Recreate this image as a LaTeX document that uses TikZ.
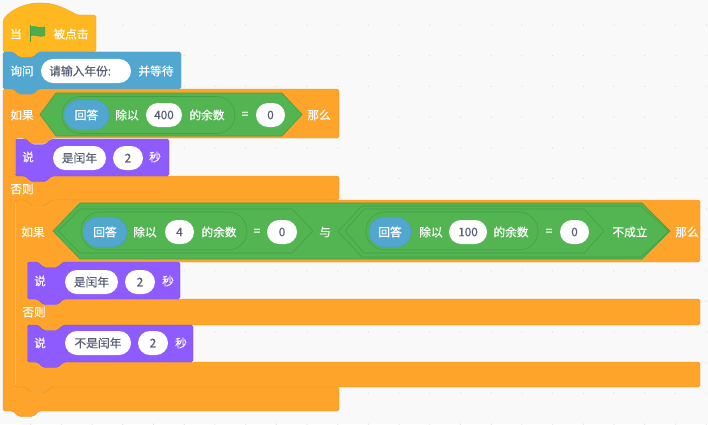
\documentclass[tikz,border=0pt]{standalone}
\usepackage{fontspec}
\setmainfont{Noto Sans CJK SC}[FakeBold=0.35]
\usetikzlibrary{shapes.misc}
\definecolor{bgcol}{HTML}{F9F9F9}
\definecolor{dotcol}{HTML}{DDDDDD}
\definecolor{hatcol}{HTML}{FFB81F}
\definecolor{hatline}{HTML}{F0A81A}
\definecolor{ctrlcol}{HTML}{FFA42B}
\definecolor{ctrlline}{HTML}{E8952A}
\definecolor{askcol}{HTML}{52A7D0}
\definecolor{askline}{HTML}{4A9AC2}
\definecolor{saycol}{HTML}{8E5BFF}
\definecolor{sayline}{HTML}{7F4FE8}
\definecolor{opcol}{HTML}{52B552}
\definecolor{opline}{HTML}{429E45}
\definecolor{valcol}{HTML}{575E75}
\tikzset{
  lbl/.style={text=white,inner sep=0pt},
  valtxt/.style={text=valcol,inner sep=0pt},
  valpill/.style={rounded rectangle,fill=white,text=valcol,inner sep=0pt,minimum height=0.72cm},
  answerpill/.style={rounded rectangle,fill=askcol,draw=askline,line width=0.3pt,text=white,inner sep=0pt,minimum height=0.9cm},
  condpill/.style={rounded rectangle,draw=opline,line width=0.5pt,inner sep=0pt},
  hexfill/.style={fill=opcol,draw=opline,line width=0.5pt},
  hexline/.style={draw=opline,line width=0.5pt},
  block/.style={rounded corners=1.5,line width=0.4pt}
}
% x1, y1, x2, y2 of one stack block
\newcommand{\stackblock}[6]{
  \draw[block,fill=#1,draw=#2] (#3,#4)--({#3+10},#4)--({#3+16},{#4+5.5})--({#3+30},{#4+5.5})--({#3+36},#4)
    --(#5,#4)--(#5,#6)--({#3+36},#6)--({#3+30},{#6+5.5})--({#3+16},{#6+5.5})--({#3+10},#6)--(#3,#6)--cycle;
}
% x1, y1, x2, header bottom, bar top, bar bottom, foot top, foot bottom
\newcommand{\ifelseblock}[8]{
  \def\xa{(#1+12)}
  \draw[block,fill=ctrlcol,draw=ctrlline] (#1,#2)--({#1+10},#2)--({#1+16},{#2+5.5})--({#1+30},{#2+5.5})--({#1+36},#2)--(#3,#2)
    --(#3,#4)--({\xa+36},#4)--({\xa+30},{#4+5.5})--({\xa+16},{#4+5.5})--({\xa+10},#4)--({\xa},#4)
    --({\xa},#5)--({\xa+10},#5)--({\xa+16},{#5+5.5})--({\xa+30},{#5+5.5})--({\xa+36},#5)--(#3,#5)
    --(#3,#6)--({\xa+36},#6)--({\xa+30},{#6+5.5})--({\xa+16},{#6+5.5})--({\xa+10},#6)--({\xa},#6)
    --({\xa},#7)--({\xa+10},#7)--({\xa+16},{#7+5.5})--({\xa+30},{#7+5.5})--({\xa+36},#7)--(#3,#7)
    --(#3,#8)--({#1+36},#8)--({#1+30},{#8+5.5})--({#1+16},{#8+5.5})--({#1+10},#8)--(#1,#8)--cycle;
}
% style, left tip, inner left, inner right, right tip, top, bottom
\newcommand{\hexa}[7]{
  \draw[#1] (#2,{(#6+#7)/2})--(#3,#6)--(#4,#6)--(#5,{(#6+#7)/2})--(#4,#7)--(#3,#7)--cycle;
}
% name, x1, x2, y, text
\newcommand{\pillval}[5]{
  \node[valpill,minimum width={(#3-#2)*0.03cm}] (#1) at ({(#2+#3)/2},#4) {#5};
}
\newcommand{\pillans}[5]{
  \node[answerpill,minimum width={(#3-#2)*0.03cm}] (#1) at ({(#2+#3)/2},#4) {#5};
}
\newcommand{\pillcond}[5]{
  \node[condpill,minimum width={(#3-#2)*0.03cm},minimum height={(#5)*0.03cm}] (#1) at ({(#2+#3)/2},#4) {};
}
\begin{document}
\begin{tikzpicture}[x=0.03cm,y=-0.03cm,font=\fontsize{10}{12}\selectfont,line join=round]
\useasboundingbox (0,0) rectangle (708,424);
\fill[bgcol] (0,0) rectangle (708,424);
\foreach \i in {1,...,23}
  \foreach \j in {1,...,14}
    \fill[dotcol] ({30.7*\i},{-5.7+30.7*\j}) circle(0.7);

% hat block
\draw[block,fill=hatcol,draw=hatline] (3,20) .. controls (12,8) and (28,3) .. (40,3) .. controls (56,3) and (68,10) .. (77,15)
  --(96,15)--(96,52)--(39,52)--(33,57.5)--(19,57.5)--(13,52)--(3,52)--cycle;
\node[lbl] (whenT) at (16,34) {当};
\fill[opline] (29.5,25) rectangle (31,42);
\fill[opcol!95!black] (31,26.5) .. controls (35,24.5) and (39,29) .. (45,26.5)--(45,36) .. controls (39,38.5) and (35,34) .. (31,36)--cycle;
\node[lbl] (clickT) at (71,34) {被点击};

% ask block
\stackblock{askcol}{askline}{3}{52}{181}{89}
\node[lbl] (askT) at (22,71) {询问};
\pillval{askV}{41}{131}{71}{}
\node[valtxt,anchor=west] (askQ) at (49,71) {请输入年份:};
\node[lbl] (waitT) at (156,71) {并等待};

% outer if
\ifelseblock{3}{89}{339}{138}{176}{200}{387}{411}
\node[lbl] (ifA) at (22,115) {如果};
\hexa{hexfill}{40}{56}{282}{302}{93}{136}
\pillcond{condA}{62}{235}{115}{37}
\pillans{ansA}{64}{109}{115}{回答}
\node[lbl] (modA) at (127,115) {除以};
\pillval{numA}{146}{182}{115}{400}
\node[lbl] (remA) at (207,115) {的余数};
\node[lbl] (eqA) at (245,115) {=};
\pillval{zeroA}{256}{285}{115}{0}
\node[lbl] (thenA) at (319,115) {那么};

% say leap
\stackblock{saycol}{sayline}{15.5}{139}{169}{176}
\node[lbl] (sayA) at (28,157) {说};
\pillval{textA}{53}{106}{158}{是闰年}
\pillval{secA}{113}{143}{158}{2}
\node[lbl] (unitA) at (155,157) {秒};
\node[lbl] (elseA) at (22,189) {否则};

% inner if
\ifelseblock{15.5}{200}{700}{262}{299}{325}{362}{387}
\node[lbl] (ifB) at (33,232) {如果};
\hexa{hexfill}{53}{80}{642}{670}{203}{259}
\hexa{hexline}{58}{80}{292}{313}{209}{253}
\pillcond{condB}{81}{247}{231}{38}
\pillans{ansB}{83}{127}{232}{回答}
\node[lbl] (modB) at (145,232) {除以};
\pillval{numB}{165}{194}{232}{4}
\node[lbl] (remB) at (219,232) {的余数};
\node[lbl] (eqB) at (257,232) {=};
\pillval{zeroB}{267}{297}{232}{0}
\node[lbl] (andB) at (325,232) {与};
\hexa{hexline}{338}{362}{641}{669}{206}{257}
\hexa{hexline}{345}{364}{584}{604}{209}{253}
\pillcond{condC}{366}{538}{231}{38}
\pillans{ansC}{369}{411}{232}{回答}
\node[lbl] (modC) at (431,232) {除以};
\pillval{numC}{449}{487}{232}{100}
\node[lbl] (remC) at (511,232) {的余数};
\node[lbl] (eqC) at (549,232) {=};
\pillval{zeroC}{560}{589}{232}{0}
\node[lbl] (notC) at (630,232) {不成立};
\node[lbl] (thenB) at (687,232) {那么};

% say leap, inner
\stackblock{saycol}{sayline}{27.5}{262}{180}{299}
\node[lbl] (sayB) at (40,281) {说};
\pillval{textB}{65}{118}{282}{是闰年}
\pillval{secB}{125}{155}{282}{2}
\node[lbl] (unitB) at (168,281) {秒};
\node[lbl] (elseB) at (34,312) {否则};

% say not leap
\stackblock{saycol}{sayline}{27.5}{325}{193}{362}
\node[lbl] (sayC) at (40,343) {说};
\pillval{textC}{65}{131}{343}{不是闰年}
\pillval{secC}{138}{168}{343}{2}
\node[lbl] (unitC) at (181,343) {秒};
\end{tikzpicture}
\end{document}
